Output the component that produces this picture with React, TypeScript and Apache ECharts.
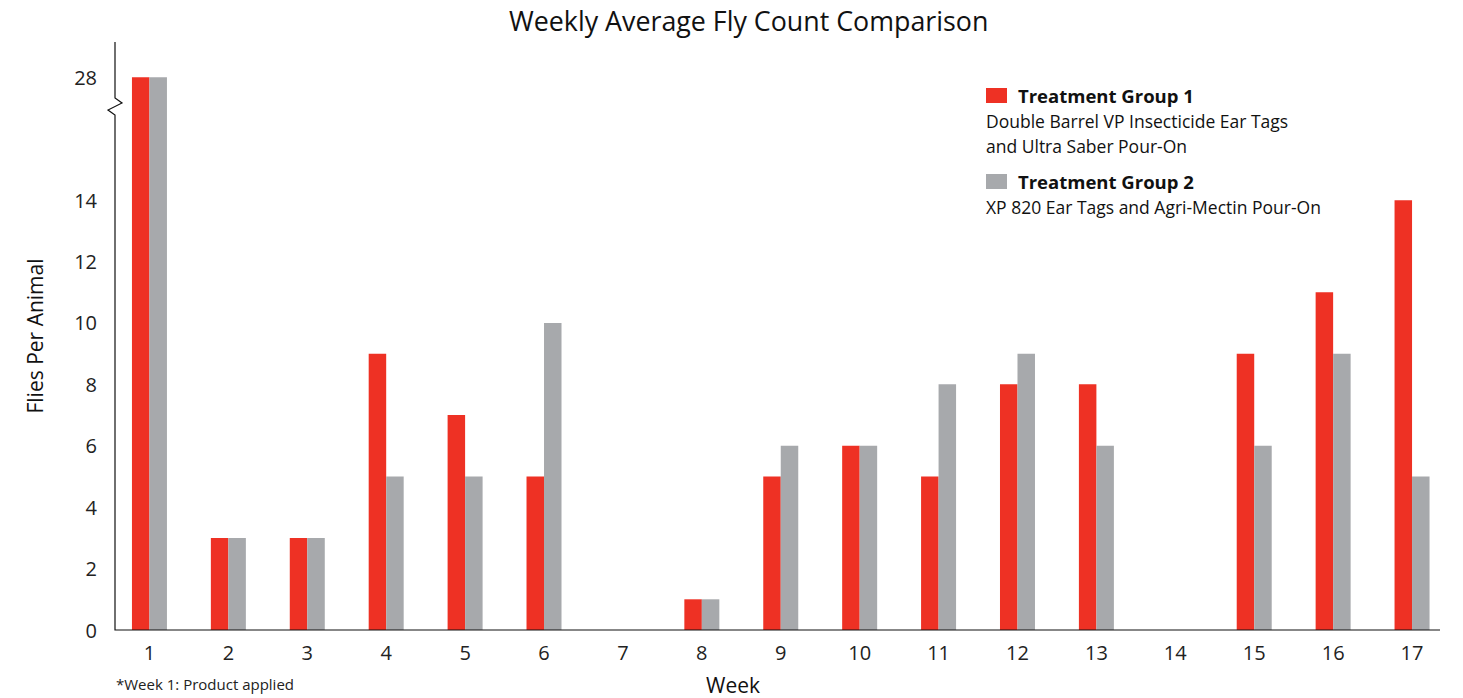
import React, { useEffect, useRef } from "react";
import * as echarts from "echarts";

const weeks = ["1","2","3","4","5","6","7","8","9","10","11","12","13","14","15","16","17"];
const group1 = [28, 3, 3, 9, 7, 5, 0, 1, 5, 6, 5, 8, 8, 0, 9, 11, 14];
const group2 = [28, 3, 3, 5, 5, 10, 0, 1, 6, 6, 8, 9, 6, 0, 6, 9, 5];
const yTickLabels = [0, 2, 4, 6, 8, 10, 12, 14, 28];
const seriesNames = ["Treatment Group 1", "Treatment Group 2"];
const seriesDesc = [
  ["Double Barrel VP Insecticide Ear Tags", "and Ultra Saber Pour-On"],
  ["XP 820 Ear Tags and Agri-Mectin Pour-On"],
];

const RED = "#EE3124";
const GRAY = "#A7A9AC";
const FONT = "'Open Sans', 'Noto Sans', sans-serif";

export default function App() {
  const ref = useRef<HTMLDivElement>(null);
  useEffect(() => {
    if (!ref.current) return;
    const chart = echarts.init(ref.current, undefined, { renderer: "svg" });
    chart.setOption({
      animation: false,
      textStyle: { fontFamily: FONT },
      title: {
        text: "Weekly Average Fly Count Comparison",
        left: 509,
        top: 7,
        padding: 0,
        textStyle: { fontSize: 26.8, fontWeight: "normal", color: "#111", fontFamily: FONT },
      },
      legend: {
        orient: "vertical",
        left: 986,
        top: 86,
        padding: 0,
        itemWidth: 21,
        itemHeight: 15,
        itemGap: 67,
        icon: "rect",
        textStyle: { fontSize: 18.5, fontWeight: "bold", color: "#111", fontFamily: FONT, padding: [0, 0, 0, 6] },
        data: seriesNames,
      },
      grid: { left: 110, right: 11.5, top: 42, bottom: 68, outerBoundsMode: "none", containLabel: false },
      xAxis: {
        type: "category",
        data: weeks,
        axisLine: { show: false },
        axisTick: { show: false },
        axisLabel: { fontSize: 20, color: "#222", margin: 12, fontFamily: FONT },
      },
      yAxis: {
        type: "value",
        min: 0,
        max: 29.15,
        interval: 2,
        breaks: [{ start: 16, end: 26, gap: 0 }],
        breakArea: { show: false },
        axisLine: { show: false },
        axisTick: { show: false },
        splitLine: { show: false },
        offset: -5,
        name: "Flies Per Animal",
        nameLocation: "middle",
        nameGap: 70,
        nameMoveOverlap: false,
        nameTextStyle: { fontSize: 21, color: "#111", fontFamily: FONT },
        axisLabel: {
          fontSize: 20,
          color: "#222",
          margin: 18,
          hideOverlap: false,
          fontFamily: FONT,
          formatter: (v: number) => (yTickLabels.includes(Math.round(v * 100) / 100) ? String(Math.round(v)) : ""),
        },
      },
      series: [
        {
          name: seriesNames[0],
          type: "bar",
          data: group1,
          barWidth: 17.5,
          barGap: "0%",
          itemStyle: { color: RED },
        },
        {
          name: seriesNames[1],
          type: "bar",
          data: group2,
          barWidth: 17.5,
          barGap: "0%",
          itemStyle: { color: GRAY },
        },
      ],
      graphic: [
        {
          type: "polyline",
          shape: { points: [[115, 42], [115, 98], [122, 103], [108, 110], [115, 115], [115, 630], [1440, 630]] },
          style: { stroke: "#111", lineWidth: 1.2, fill: null },
          z: 10,
        },
        {
          type: "text",
          left: 986,
          top: 108,
          style: {
            text: seriesDesc[0].join("\n"),
            fontSize: 17.5,
            lineHeight: 25,
            fill: "#111",
            fontFamily: FONT,
          },
        },
        {
          type: "text",
          left: 986,
          top: 194,
          style: { text: seriesDesc[1].join("\n"), fontSize: 17.5, lineHeight: 25, fill: "#111", fontFamily: FONT },
        },
        {
          type: "text",
          x: 733,
          y: 685,
          style: { text: "Week", fontSize: 21, fill: "#111", fontFamily: FONT, align: "center", verticalAlign: "middle" },
        },
        {
          type: "text",
          left: 116,
          top: 676,
          style: { text: "*Week 1: Product applied", fontSize: 15, fill: "#222", fontFamily: FONT },
        },
      ],
    });
    return () => chart.dispose();
  }, []);
  return <div ref={ref} style={{ position: "absolute", left: 0, top: 0, width: 1463, height: 698 }} />;
}
